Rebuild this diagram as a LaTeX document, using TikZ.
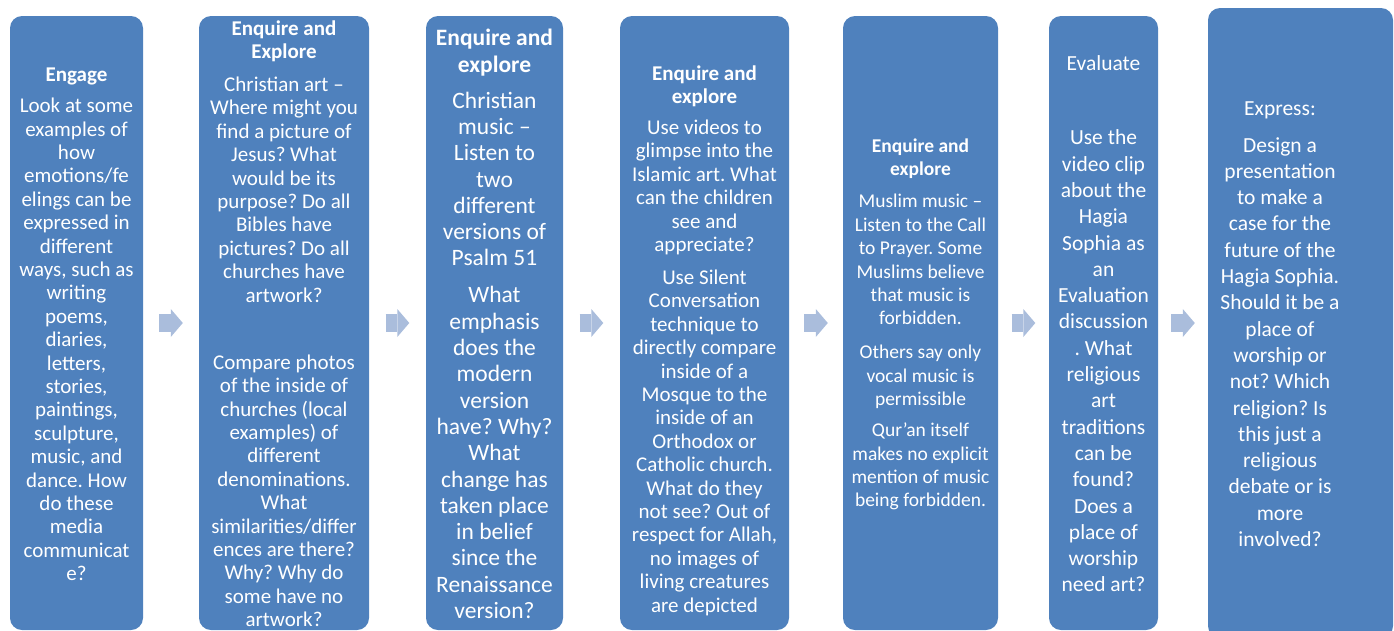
\documentclass[tikz,border=0pt]{standalone}
\usepackage{fontspec}
\setmainfont{Carlito}
\frenchspacing
\usetikzlibrary{arrows.meta}
\definecolor{stage colour}{RGB}{79,129,189}
\definecolor{flow colour}{RGB}{170,189,220}
\tikzset{
    % The tall blue boxes, one for each stage
    stage box/.style={
        fill=stage colour, rectangle, rounded corners=12pt,
        minimum height=614, inner sep=0},
%
    % Text sizes used inside the boxes
    stage text/.style={text=white, align=center, inner sep=0},
    small text/.style={stage text, font=\fontsize{19.5}{23.4}\selectfont},
    body text/.style={stage text, font=\fontsize{21}{23.4}\selectfont},
    wide text/.style={stage text, font=\fontsize{21.5}{26.3}\selectfont},
    large text/.style={stage text, font=\fontsize{23.5}{26.3}\selectfont},
%
    % Fat pale arrow between two stages
    flow/.style={
        draw=flow colour, line width=18pt, shorten <=#1pt, shorten >=#1pt,
        -{Triangle[length=12pt, width=28pt, line width=0pt]}},
}

\begin{document}
\begin{tikzpicture}[x=1pt, y=-1pt]

\useasboundingbox (0,0) rectangle (1394,630);
\clip (0,0) rectangle (1394,630);

\path
    (76.5,323) node [stage box, minimum width=133] (engage) {}
    (284,323) node [stage box, minimum width=170] (art explore) {}
    (494.5,323) node [stage box, minimum width=137] (music explore) {}
    (704.5,323) node [stage box, minimum width=169] (islamic art) {}
    (920.5,323) node [stage box, minimum width=155] (muslim music) {}
    (1103.5,323) node [stage box, minimum width=109] (evaluate) {}
    (1300.5,323) node [stage box, minimum width=185, minimum height=630] (express) {};

\node [body text] (engage text) at (76.5,324.5) {
    \textbf{Engage}\\[7.5pt]
    Look at some\\ examples of\\ how\\ emotions/fe\\ elings can be\\
    expressed in\\ different\\ ways, such as\\ writing\\ poems,\\ diaries,\\
    letters,\\ stories,\\ paintings,\\ sculpture,\\ music, and\\ dance. How\\
    do these\\ media\\ communicat\\ e?};

\node [body text] (art text) at (284,323.5) {
    \textbf{Enquire and}\\ \textbf{Explore}\\[9.7pt]
    Christian art –\\ Where might you\\ find a picture of\\ Jesus? What\\
    would be its\\ purpose? Do all\\ Bibles have\\ pictures? Do all\\
    churches have\\ artwork?\\[43.7pt]
    Compare photos\\ of the inside of\\ churches (local\\ examples) of\\
    different\\ denominations.\\ What\\ similarities/differ\\
    ences are there?\\ Why? Why do\\ some have no\\ artwork?};

\node [large text] (music text) at (494.5,324) {
    \textbf{Enquire and}\\ \textbf{explore}\\[9.7pt]
    Christian\\ music –\\ Listen to\\ two\\ different\\ versions of\\
    Psalm 51\\[10.7pt]
    What\\ emphasis\\ does the\\ modern\\ version\\ have? Why?\\ What\\
    change has\\ taken place\\ in belief\\ since the\\ Renaissance\\ version?};

\node [body text] (islamic text) at (704.5,340.5) {
    \textbf{Enquire and}\\ \textbf{explore}\\[7.6pt]
    Use videos to\\ glimpse into the\\ Islamic art. What\\ can the children\\
    see and\\ appreciate?\\[9.6pt]
    Use Silent\\ Conversation\\ technique to\\ directly compare\\ inside of a\\
    Mosque to the\\ inside of an\\ Orthodox or\\ Catholic church.\\
    What do they\\ not see? Out of\\ respect for Allah,\\ no images of\\
    living creatures\\ are depicted};

\node [small text] (muslim text) at (920.5,324.5) {
    \textbf{Enquire and}\\ \textbf{explore}\\[8.6pt]
    Muslim music –\\ Listen to the Call\\ to Prayer. Some\\ Muslims believe\\
    that music is\\ forbidden.\\[10.6pt]
    Others say only\\ vocal music is\\ permissible\\[7.6pt]
    Qur’an itself\\ makes no explicit\\ mention of music\\ being forbidden.};

\node [wide text] (evaluate text) at (1103.5,324) {
    Evaluate\\[47.7pt]
    Use the\\ video clip\\ about the\\ Hagia\\ Sophia as\\ an\\ Evaluation\\
    discussion\\ . What\\ religious\\ art\\ traditions\\ can be\\ found?\\
    Does a\\ place of\\ worship\\ need art?};

\node [wide text] (express text) at (1280,324) {
    Express:\\[10.7pt]
    Design a\\ presentation\\ to make a\\ case for the\\ future of the\\
    Hagia Sophia.\\ Should it be a\\ place of\\ worship or\\ not? Which\\
    religion? Is\\ this just a\\ religious\\ debate or is\\ more\\ involved?};

% pale arrows from stage to stage
\foreach \from/\to/\gap in {engage/art explore/16,
        art explore/music explore/16.5, music explore/islamic art/16.5,
        islamic art/muslim music/15, muslim music/evaluate/13.5,
        evaluate/express/13}
    \draw [flow=\gap] (\from) -- (\to);

\end{tikzpicture}
\end{document}
